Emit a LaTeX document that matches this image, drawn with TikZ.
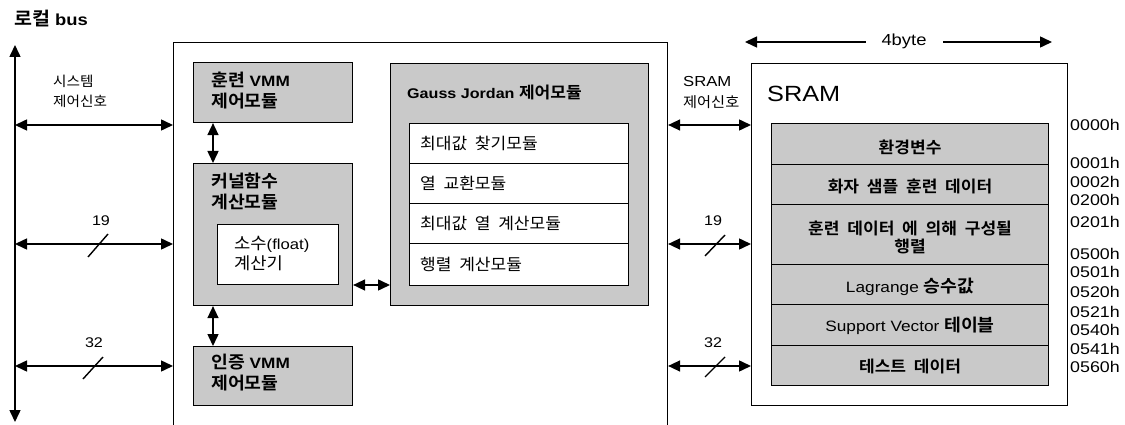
\documentclass[tikz,border=0pt]{standalone}
\usepackage{fontspec}
\setmainfont[FakeStretch=1.15]{Liberation Sans}
\newfontfamily\krf[Scale=1.15,FakeStretch=1.06,BoldFont={Noto Sans CJK KR Bold}]{Noto Sans CJK KR}
\newcommand\hk[1]{{\krf #1}}
\usetikzlibrary{arrows.meta,calc}
\definecolor{gfill}{gray}{0.79}
\begin{document}
\begin{tikzpicture}[x=1pt,y=-1pt,
  box/.style={draw, line width=1.1pt, inner sep=0pt, anchor=north west},
  gbox/.style={box, fill=gfill},
  wbox/.style={box, fill=white},
  dar/.style={{Triangle[length=12pt,width=11pt]}-{Triangle[length=12pt,width=11pt]}, line width=1.5pt},
  txt/.style={inner sep=0pt, font=\fontsize{14}{20}\selectfont},
  stxt/.style={inner sep=0pt, font=\fontsize{12}{20}\selectfont},
  btxt/.style={inner sep=0pt, font=\fontsize{15}{21}\selectfont\bfseries},
  slash/.style={line width=1.4pt},
  addr/.style={inner sep=0pt, anchor=west, font=\fontsize{15.5}{16}\selectfont}
]
\clip (0,0) rectangle (1125,425);
\fill[white] (0,0) rectangle (1125,425);

% local bus
\node[inner sep=0pt, anchor=west, font=\fontsize{16}{18}\selectfont\bfseries] (busT) at (14,19) {\hk{\bfseries 로컬} bus};
\coordinate (bt) at (15,45);
\coordinate (bb) at (15,422);
\draw[dar] (bb) -- (bt);
\coordinate (b1) at (15,125);
\coordinate (b2) at (15,244);
\coordinate (b3) at (15,366);

% main box
\node[box, minimum width=494pt, minimum height=420pt] (main) at (173,42) {};

\draw[dar] (b1) -- (b1 -| main.west);
\draw[dar] (b2) -- (b2 -| main.west);
\draw[dar] (b3) -- (b3 -| main.west);
\node[stxt, anchor=west, align=left] (sysT) at (53,91) {\hk{시스템}\\\hk{제어신호}};
\node[txt] (n19a) at (101,221) {19};
\draw[slash] (88,257) -- (108,234);
\node[txt] (n32a) at (94,343) {32};
\draw[slash] (83,379) -- (103,357);

% left modules
\node[gbox, minimum width=159pt, minimum height=60pt] (train) at (193,62) {};
\node[btxt, anchor=west, align=left] (trainT) at (211,91) {\hk{\bfseries 훈련} VMM\\\hk{\bfseries 제어모듈}};
\node[gbox, minimum width=159pt, minimum height=142pt] (kern) at (193,163) {};
\node[btxt, anchor=west, align=left] (kernT) at (211,191) {\hk{\bfseries 커널함수}\\\hk{\bfseries 계산모듈}};
\node[wbox, minimum width=121pt, minimum height=60pt] (flt) at (217,224) {};
\node[inner sep=0pt, font=\fontsize{14.5}{20}\selectfont, anchor=west, align=left] (fltT) at (234,254) {\hk{소수}(float)\\\hk{계산기}};
\node[gbox, minimum width=159pt, minimum height=59pt] (auth) at (193,346) {};
\node[btxt, anchor=west, align=left] (authT) at (211,373) {\hk{\bfseries 인증} VMM\\\hk{\bfseries 제어모듈}};

\draw[dar] ([xshift=20pt]train.south west) -- ([xshift=20pt]kern.north west);
\draw[dar] ([xshift=20pt]kern.south west) -- ([xshift=20pt]auth.north west);

% Gauss Jordan
\node[gbox, minimum width=258pt, minimum height=242pt] (gj) at (390,63) {};
\node[inner sep=0pt, font=\fontsize{14}{20}\selectfont\bfseries, anchor=west] (gjT) at (407,92) {Gauss Jordan \hk{\bfseries 제어모듈}};
\node[wbox, minimum width=219pt, minimum height=40pt] (g1) at (409,123) {};
\node[wbox, minimum width=219pt, minimum height=40pt] (g2) at (409,163) {};
\node[wbox, minimum width=219pt, minimum height=40pt] (g3) at (409,203) {};
\node[wbox, minimum width=219pt, minimum height=42pt] (g4) at (409,243) {};
\node[txt, anchor=west] at ([xshift=11pt]g1.west) {\hk{최대값 \ 찾기모듈}};
\node[txt, anchor=west] at ([xshift=11pt]g2.west) {\hk{열 \ 교환모듈}};
\node[txt, anchor=west] at ([xshift=11pt]g3.west) {\hk{최대값 \ 열 \ 계산모듈}};
\node[txt, anchor=west] at ([xshift=11pt]g4.west) {\hk{행렬 \ 계산모듈}};

\coordinate (kg) at (352,285);
\draw[dar] (kg -| kern.east) -- (kg -| gj.west);

% SRAM
\node[box, minimum width=316pt, minimum height=342pt] (sram) at (751,63) {};
\node[inner sep=0pt, anchor=west, font=\fontsize{22}{24}\selectfont] (sramT) at (767,94) {SRAM};

\draw[dar] (b1 -| main.east) -- (b1 -| sram.west);
\draw[dar] (b2 -| main.east) -- (b2 -| sram.west);
\draw[dar] (b3 -| main.east) -- (b3 -| sram.west);
\node[inner sep=0pt, anchor=west, font=\fontsize{14.5}{16}\selectfont] (srT1) at (683,82) {SRAM};
\node[inner sep=0pt, anchor=west, font=\fontsize{12.5}{16}\selectfont] (srT2) at (683,102) {\hk{제어신호}};
\node[txt] (n19b) at (713,221) {19};
\draw[slash] (705,256) -- (725,235);
\node[txt] (n32b) at (713,343) {32};
\draw[slash] (705,377) -- (725,357);

% 4byte
\coordinate (fbl) at (745,42);
\coordinate (fbr) at (1052,42);
\draw[dar] (fbl) -- (fbr);
\node[fill=white, inner xsep=16pt, inner ysep=2pt, font=\fontsize{16}{18}\selectfont] (fb) at (904,41) {4byte};

% SRAM rows
\node[gbox, minimum width=277pt, minimum height=41pt] (s1) at (771,123) {};
\node[gbox, minimum width=277pt, minimum height=40pt] (s2) at (771,164) {};
\node[gbox, minimum width=277pt, minimum height=60pt] (s3) at (771,204) {};
\node[gbox, minimum width=277pt, minimum height=40pt] (s4) at (771,264) {};
\node[gbox, minimum width=277pt, minimum height=41pt] (s5) at (771,304) {};
\node[gbox, minimum width=277pt, minimum height=40pt] (s6) at (771,345) {};
\node[txt] at ([yshift=-3pt]s1.center) {\hk{\bfseries 환경변수}};
\node[txt] at ([yshift=-2pt]s2.center) {\hk{\bfseries 화자 \ 샘플 \ 훈련 \ 데이터}};
\node[txt, align=center, font=\fontsize{14}{18}\selectfont] at ([yshift=-3pt]s3.center) {\hk{\bfseries 훈련 \ 데이터 \ 에 \ 의해 \ 구성될}\\\hk{\bfseries 행렬}};
\node[inner sep=0pt, font=\fontsize{15}{18}\selectfont] at ([yshift=-2pt]s4.center) {Lagrange \hk{\bfseries 승수값}};
\node[inner sep=0pt, font=\fontsize{15}{18}\selectfont] at ([yshift=-1pt]s5.center) {Support Vector \hk{\bfseries 테이블}};
\node[txt] at ([yshift=-1pt]s6.center) {\hk{\bfseries 테스트 \ 데이터}};

% addresses
\node[addr] at (1070,125) {0000h};
\node[addr] at (1070,163) {0001h};
\node[addr] at (1070,182) {0002h};
\node[addr] at (1070,200) {0200h};
\node[addr] at (1070,222) {0201h};
\node[addr] at (1070,254) {0500h};
\node[addr] at (1070,272) {0501h};
\node[addr] at (1070,292) {0520h};
\node[addr] at (1070,312) {0521h};
\node[addr] at (1070,330) {0540h};
\node[addr] at (1070,349) {0541h};
\node[addr] at (1070,367) {0560h};
\end{tikzpicture}
\end{document}
